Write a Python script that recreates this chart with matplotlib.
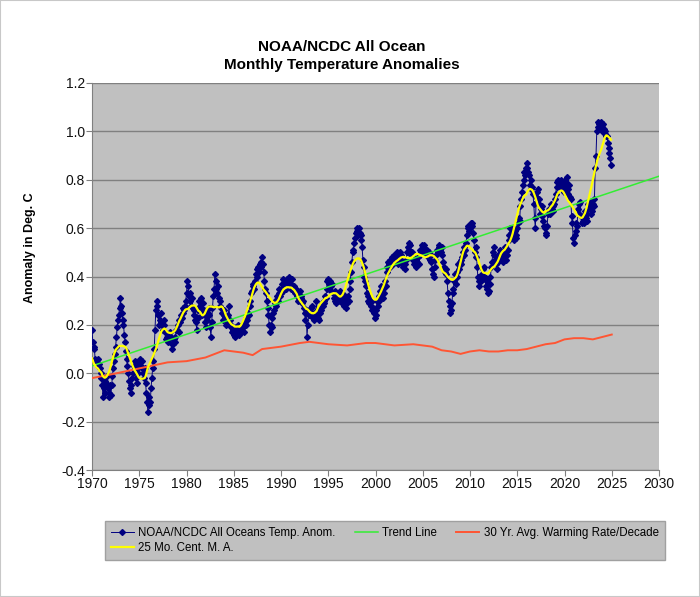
import numpy as np
import pandas as pd
import matplotlib
matplotlib.use("Agg")
import matplotlib.pyplot as plt
from matplotlib.lines import Line2D
from matplotlib.patches import Rectangle

plt.rcParams['font.family'] = ['Liberation Sans', 'DejaVu Sans']

# ---- data: monthly anomalies (deg C), one row per year, Jan..Dec ----
start_year = 1970
monthly = [
    [0.18, 0.13, 0.11, 0.10, 0.06, 0.05, 0.04, 0.03, 0.06, 0.04, 0.02, 0.00],  # 1970
    [-0.02, -0.05, -0.10, -0.06, -0.03, -0.08, -0.04, -0.01, -0.06, -0.10, -0.08, -0.05],
    [-0.09, -0.05, -0.01, 0.02, 0.05, 0.08, 0.11, 0.15, 0.19, 0.22, 0.24, 0.27],
    [0.31, 0.28, 0.25, 0.22, 0.20, 0.16, 0.13, 0.09, 0.06, 0.03, 0.00, -0.03],
    [-0.06, -0.08, -0.05, -0.02, 0.00, 0.03, 0.05, 0.02, -0.02, -0.04, 0.00, 0.02],
    [0.04, 0.06, 0.03, 0.05, 0.02, 0.00, -0.02, 0.02, -0.04, -0.08, -0.12, -0.16],  # 1975
    [-0.13, -0.10, -0.12, -0.06, -0.02, 0.02, 0.05, 0.10, 0.18, 0.26, 0.30, 0.28],
    [0.24, 0.20, 0.22, 0.25, 0.21, 0.20, 0.18, 0.22, 0.20, 0.17, 0.14, 0.15],
    [0.16, 0.13, 0.14, 0.17, 0.15, 0.12, 0.10, 0.12, 0.14, 0.13, 0.15, 0.18],
    [0.18, 0.20, 0.17, 0.22, 0.21, 0.24, 0.23, 0.25, 0.27, 0.26, 0.28, 0.30],
    [0.33, 0.38, 0.36, 0.32, 0.30, 0.33, 0.28, 0.31, 0.27, 0.24, 0.26, 0.22],  # 1980
    [0.21, 0.18, 0.23, 0.26, 0.30, 0.28, 0.31, 0.27, 0.24, 0.29, 0.26, 0.24],
    [0.21, 0.19, 0.22, 0.25, 0.27, 0.24, 0.19, 0.15, 0.21, 0.27, 0.32, 0.35],
    [0.41, 0.38, 0.35, 0.33, 0.36, 0.31, 0.28, 0.30, 0.27, 0.25, 0.22, 0.24],
    [0.26, 0.22, 0.20, 0.23, 0.21, 0.24, 0.28, 0.22, 0.20, 0.19, 0.17, 0.18],
    [0.16, 0.18, 0.15, 0.19, 0.17, 0.20, 0.18, 0.16, 0.19, 0.17, 0.20, 0.18],  # 1985
    [0.19, 0.17, 0.21, 0.20, 0.23, 0.22, 0.25, 0.24, 0.28, 0.30, 0.33, 0.34],
    [0.36, 0.37, 0.35, 0.38, 0.41, 0.40, 0.43, 0.44, 0.42, 0.45, 0.44, 0.46],
    [0.48, 0.45, 0.42, 0.38, 0.35, 0.33, 0.30, 0.27, 0.24, 0.20, 0.17, 0.20],
    [0.19, 0.23, 0.25, 0.26, 0.29, 0.30, 0.28, 0.32, 0.30, 0.33, 0.35, 0.32],
    [0.33, 0.37, 0.39, 0.34, 0.36, 0.38, 0.35, 0.37, 0.39, 0.36, 0.40, 0.37],  # 1990
    [0.38, 0.35, 0.39, 0.36, 0.34, 0.36, 0.33, 0.35, 0.32, 0.30, 0.33, 0.31],
    [0.34, 0.31, 0.32, 0.29, 0.30, 0.27, 0.25, 0.22, 0.26, 0.15, 0.20, 0.24],
    [0.26, 0.24, 0.27, 0.25, 0.28, 0.23, 0.22, 0.25, 0.24, 0.30, 0.26, 0.23],
    [0.22, 0.25, 0.27, 0.26, 0.29, 0.28, 0.30, 0.29, 0.32, 0.31, 0.35, 0.38],
    [0.39, 0.37, 0.38, 0.36, 0.34, 0.37, 0.33, 0.31, 0.34, 0.30, 0.29, 0.32],  # 1995
    [0.30, 0.33, 0.31, 0.34, 0.32, 0.29, 0.33, 0.31, 0.28, 0.32, 0.30, 0.27],
    [0.29, 0.32, 0.30, 0.35, 0.38, 0.42, 0.46, 0.50, 0.51, 0.54, 0.56, 0.58],
    [0.60, 0.59, 0.57, 0.60, 0.58, 0.55, 0.57, 0.52, 0.47, 0.44, 0.40, 0.38],
    [0.36, 0.33, 0.30, 0.32, 0.29, 0.31, 0.28, 0.26, 0.30, 0.27, 0.25, 0.23],
    [0.24, 0.26, 0.30, 0.28, 0.32, 0.30, 0.34, 0.36, 0.33, 0.31, 0.35, 0.33],  # 2000
    [0.38, 0.36, 0.42, 0.44, 0.46, 0.45, 0.47, 0.44, 0.46, 0.48, 0.45, 0.47],
    [0.49, 0.46, 0.48, 0.50, 0.47, 0.45, 0.48, 0.50, 0.47, 0.49, 0.45, 0.44],
    [0.46, 0.43, 0.45, 0.47, 0.50, 0.52, 0.54, 0.51, 0.53, 0.49, 0.50, 0.48],
    [0.47, 0.45, 0.46, 0.44, 0.47, 0.46, 0.48, 0.45, 0.49, 0.51, 0.50, 0.53],
    [0.52, 0.50, 0.53, 0.51, 0.50, 0.49, 0.51, 0.48, 0.50, 0.47, 0.49, 0.46],  # 2005
    [0.43, 0.41, 0.40, 0.44, 0.47, 0.49, 0.51, 0.50, 0.52, 0.53, 0.51, 0.50],
    [0.52, 0.49, 0.46, 0.44, 0.42, 0.43, 0.41, 0.38, 0.33, 0.30, 0.28, 0.25],
    [0.26, 0.29, 0.33, 0.35, 0.38, 0.41, 0.37, 0.40, 0.42, 0.45, 0.43, 0.46],
    [0.47, 0.45, 0.48, 0.50, 0.52, 0.49, 0.51, 0.54, 0.57, 0.60, 0.61, 0.59],
    [0.60, 0.62, 0.61, 0.62, 0.58, 0.55, 0.50, 0.48, 0.52, 0.44, 0.40, 0.38],  # 2010
    [0.36, 0.40, 0.38, 0.41, 0.39, 0.43, 0.44, 0.40, 0.36, 0.38, 0.35, 0.33],
    [0.34, 0.37, 0.40, 0.44, 0.46, 0.50, 0.52, 0.49, 0.47, 0.45, 0.43, 0.46],
    [0.49, 0.48, 0.51, 0.47, 0.50, 0.48, 0.46, 0.49, 0.52, 0.50, 0.47, 0.49],
    [0.51, 0.55, 0.57, 0.60, 0.58, 0.56, 0.60, 0.58, 0.55, 0.59, 0.57, 0.56],
    [0.60, 0.62, 0.64, 0.63, 0.69, 0.72, 0.75, 0.78, 0.80, 0.83, 0.82, 0.85],  # 2015
    [0.87, 0.85, 0.83, 0.82, 0.78, 0.76, 0.80, 0.77, 0.74, 0.70, 0.64, 0.60],
    [0.73, 0.75, 0.76, 0.72, 0.70, 0.66, 0.68, 0.69, 0.65, 0.63, 0.61, 0.60],
    [0.58, 0.57, 0.61, 0.66, 0.68, 0.67, 0.66, 0.70, 0.68, 0.69, 0.67, 0.70],
    [0.72, 0.74, 0.79, 0.77, 0.80, 0.78, 0.79, 0.80, 0.77, 0.76, 0.78, 0.75],
    [0.77, 0.80, 0.79, 0.81, 0.76, 0.74, 0.78, 0.73, 0.72, 0.65, 0.62, 0.56],  # 2020
    [0.54, 0.57, 0.59, 0.62, 0.61, 0.68, 0.70, 0.66, 0.71, 0.65, 0.62, 0.63],
    [0.65, 0.62, 0.67, 0.64, 0.63, 0.66, 0.70, 0.69, 0.71, 0.68, 0.66, 0.67],
    [0.70, 0.69, 0.72, 0.85, 0.90, 1.00, 1.02, 1.04, 1.03, 1.01, 1.04, 1.02],
    [1.00, 1.03, 1.01, 1.00, 0.99, 0.98, 0.98, 0.95, 0.93, 0.91, 0.89, 0.86],  # 2024
]

# 30-yr average warming rate per decade (deg C / decade), read at these years
rate_years = [1970, 1972, 1975, 1978, 1980, 1982, 1984, 1986, 1987, 1988, 1990,
              1992, 1993, 1995, 1997, 1999, 2000, 2002, 2004, 2005, 2006, 2007,
              2008, 2009, 2010, 2011, 2012, 2013, 2014, 2015, 2016, 2017, 2018,
              2019, 2020, 2021, 2022, 2023, 2024, 2025]
rate_vals = [-0.02, -0.005, 0.02, 0.045, 0.05, 0.065, 0.095, 0.085, 0.075, 0.10, 0.11,
             0.125, 0.13, 0.12, 0.115, 0.125, 0.125, 0.115, 0.12, 0.115, 0.11, 0.095,
             0.09, 0.08, 0.09, 0.095, 0.09, 0.09, 0.095, 0.095, 0.10, 0.11, 0.12,
             0.125, 0.14, 0.145, 0.145, 0.14, 0.15, 0.16]

x_ticks = [1970, 1975, 1980, 1985, 1990, 1995, 2000, 2005, 2010, 2015, 2020, 2025, 2030]
y_ticks = [-0.4, -0.2, 0.0, 0.2, 0.4, 0.6, 0.8, 1.0, 1.2]

title = "NOAA/NCDC All Ocean\nMonthly Temperature Anomalies"
ylabel = "Anomaly in Deg. C"
lab_data = "NOAA/NCDC All Oceans Temp. Anom."
lab_ma = "25 Mo. Cent. M. A."
lab_trend = "Trend Line"
lab_rate = "30 Yr. Avg. Warming Rate/Decade"

# ---- derived series ----
vals = np.array([v for row in monthly for v in row])
t = start_year + np.arange(len(vals)) / 12.0
ma = pd.Series(vals).rolling(25, center=True, min_periods=13).mean().to_numpy()
coef = np.polyfit(t, vals, 1)
t_tr = np.array([1970.0, 2030.0])
trend = np.polyval(coef, t_tr)

# ---- figure ----
fig = plt.figure(figsize=(7.0, 5.97), dpi=100)
fig.patch.set_facecolor('white')
fig.add_artist(Rectangle((0.0, 0.0), 1.0, 1.0, transform=fig.transFigure,
                         fill=False, edgecolor='#c8c8c8', lw=1.5))

ax = fig.add_axes([92 / 700, 1 - 470 / 597, (659 - 92) / 700, (470 - 83) / 597])
ax.set_facecolor('#c0c0c0')

ax.plot(t, vals, color='#000080', lw=0.7, marker='D', ms=3.0,
        mfc='#000080', mec='#000080', zorder=3)
ax.plot(t_tr, trend, color='#33ee33', lw=1.1, zorder=4)
ax.plot(rate_years, rate_vals, color='#ff5533', lw=1.4, zorder=4)
ax.plot(t, ma, color='#ffff00', lw=1.6, zorder=5)

ax.set_xlim(1970, 2030)
ax.set_ylim(-0.4, 1.2)
ax.set_xticks(x_ticks)
ax.set_xticklabels([str(x) for x in x_ticks])
ax.set_yticks(y_ticks)
ax.set_yticklabels([f"{y:.1f}" for y in y_ticks])
ax.yaxis.grid(True, color='#808080', lw=1.0)
ax.set_axisbelow(True)
for s in ['top', 'right']:
    ax.spines[s].set_visible(False)
for s in ['left', 'bottom']:
    ax.spines[s].set_color('#808080')
ax.tick_params(axis='both', direction='out', length=4, color='#808080',
               labelsize=10, labelcolor='#111111', pad=1)

fig.text(342 / 700, 1 - 56 / 597, title, ha='center', va='center',
         fontsize=11, fontweight='bold', linespacing=1.35)
fig.text(30 / 700, 1 - 248 / 597, ylabel, rotation=90, ha='center', va='center',
         fontsize=9, fontweight='bold')

handles = [
    Line2D([], [], color='#000080', lw=0.7, marker='D', ms=3.0),
    Line2D([], [], color='#ffff00', lw=1.6),
    Line2D([], [], color='#33ee33', lw=1.1),
    Line2D([], [], color='#ff5533', lw=1.4),
]
labels = [lab_data, lab_ma, lab_trend, lab_rate]
leg = fig.legend(handles, labels, ncol=3, loc='upper left',
                 bbox_to_anchor=(105 / 700, 1 - 521 / 597),
                 fontsize=8.3, frameon=True, fancybox=False,
                 facecolor='#c0c0c0', edgecolor='#a0a0a0', framealpha=1,
                 handlelength=2.0, handletextpad=0.4, columnspacing=1.65,
                 borderpad=0.5, labelspacing=0.3, borderaxespad=0)
leg.get_frame().set_linewidth(1.0)

fig.savefig('out.png', dpi=100, facecolor='white')
